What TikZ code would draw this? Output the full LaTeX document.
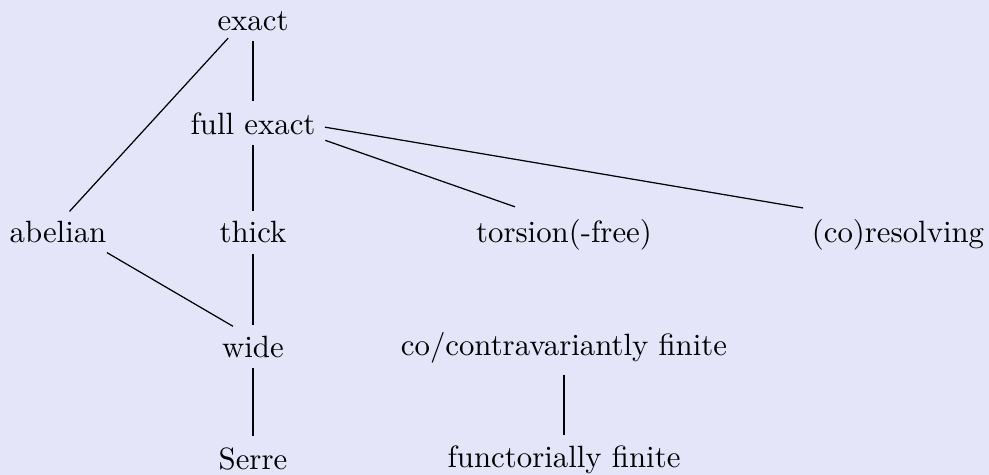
\documentclass[tikz,border=0pt]{standalone}
\usetikzlibrary{calc}
\definecolor{bglav}{RGB}{229,229,250}
\begin{document}
\begin{tikzpicture}[x=0.3247pt,y=-0.3247pt,
  lbl/.style={anchor=base, inner sep=3.33pt},
  conn/.style={draw=black, line width=0.4pt}]
\fill[bglav] (0,0) rectangle (989,475);
\useasboundingbox (0,0) rectangle (989,475);
\node[lbl] (exact) at (253,30) {exact};
\node[lbl] (full) at (253,134) {full exact};
\node[lbl] (abel) at (58,243) {abelian};
\node[lbl] (thick) at (253,243) {thick};
\node[lbl] (tors) at (564,243) {torsion(-free)};
\node[lbl] (res) at (898,243) {(co)resolving};
\node[lbl] (wide) at (253,357) {wide};
\node[lbl] (cofin) at (564,356) {co/contravariantly finite};
\node[lbl] (serre) at (253,469) {Serre};
\node[lbl] (ff) at (564,468) {functorially finite};
% connector target points (slightly above the text middle)
\foreach \n in {exact,full,abel,tors,res,wide}
  \coordinate (\n T) at ($(\n.base)+(0,-19)$);
\draw[conn] (exact) -- (full);
\draw[conn, shorten <=11.95pt, shorten >=5.52pt] (exactT) -- (abelT);
\draw[conn] (full) -- (thick);
\draw[conn, shorten <=24.87pt, shorten >=16.85pt] (fullT) -- (torsT);
\draw[conn, shorten <=23.70pt, shorten >=31.27pt] (fullT) -- (resT);
\draw[conn, shorten <=18.41pt, shorten >=7.53pt] (abelT) -- (wideT);
\draw[conn] (thick) -- (wide);
\draw[conn] (wide) -- (serre);
\draw[conn] (cofin) -- (ff);
\end{tikzpicture}
\end{document}
